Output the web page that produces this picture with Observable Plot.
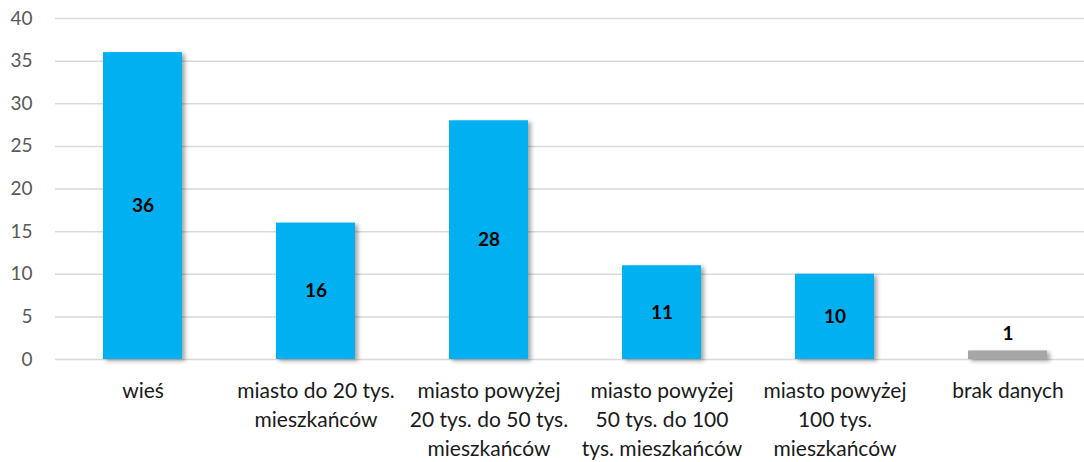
<!DOCTYPE html>
<html>
<head>
<meta charset="utf-8">
<script src="https://cdn.jsdelivr.net/npm/d3@7"></script>
<script src="https://cdn.jsdelivr.net/npm/@observablehq/plot@0.6"></script>
<style>
  html, body { margin: 0; padding: 0; background: #fff; }
  .bars rect { filter: drop-shadow(3px 2px 2px rgba(0,0,0,0.35)); }
</style>
</head>
<body>
<div id="chart"></div>
<script>
const categories = [
  "wieś",
  "miasto do 20 tys.\nmieszkańców",
  "miasto powyżej\n20 tys. do 50 tys.\nmieszkańców",
  "miasto powyżej\n50 tys. do 100\ntys. mieszkańców",
  "miasto powyżej\n100 tys.\nmieszkańców",
  "brak danych"
];
const values = [36, 16, 28, 11, 10, 1];
const colors = ["#00B0F0", "#00B0F0", "#00B0F0", "#00B0F0", "#00B0F0", "#A6A6A6"];
const yTicks = [0, 5, 10, 15, 20, 25, 30, 35, 40];

const data = categories.map((c, i) => ({cat: c, value: values[i], color: colors[i]}));
const inside = data.filter(d => d.value >= 5);
const outside = data.filter(d => d.value < 5);

const chart = Plot.plot({
  width: 1084,
  height: 462,
  marginTop: 18,
  marginBottom: 103,
  marginLeft: 55,
  marginRight: 0,
  style: {fontFamily: "Lato, 'Open Sans', sans-serif", background: "#fff"},
  x: {domain: categories, range: [55, 1095], paddingInner: 0.545, paddingOuter: 0.2725, label: null},
  y: {domain: [0, 40], label: null},
  marks: [
    Plot.gridY(yTicks, {stroke: "#D9D9D9", strokeOpacity: 1, strokeWidth: 1.5}),
    Plot.axisY(yTicks, {tickSize: 0, tickPadding: 23, fontSize: 19, color: "#595959", label: null}),
    Plot.axisX({tickSize: 0, tickPadding: 18, fontSize: 21, color: "#1a1a1a", lineHeight: 1.38, label: null}),
    Plot.barY(data, {x: "cat", y: "value", fill: "color", className: "bars"}),
    Plot.text(inside, {x: "cat", y: d => d.value / 2, text: d => String(d.value), fontSize: 19, fontWeight: "bold", fill: "#000"}),
    Plot.text(outside, {x: "cat", y: "value", text: d => String(d.value), dy: -17, fontSize: 19, fontWeight: "bold", fill: "#000"})
  ]
});
document.getElementById("chart").appendChild(chart);
</script>
</body>
</html>
